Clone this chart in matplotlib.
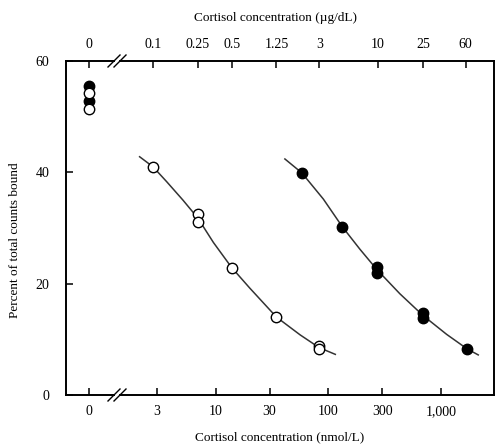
import numpy as np
import matplotlib
matplotlib.use('Agg')
import matplotlib.pyplot as plt
from matplotlib.ticker import FixedLocator, NullLocator, FixedFormatter
from matplotlib.lines import Line2D

plt.rcParams['font.family'] = ['Liberation Serif', 'DejaVu Serif']
plt.rcParams['font.size'] = 10

#-------------------------------------------------------------------------------
# data (cortisol in nmol/L, percent bound)
NMOL_PER_UG = 27.6

open_zero_y = [54.2, 51.4]
filled_zero_y = [55.5, 52.8]

open_x = [2.76, 6.9, 6.9, 13.8, 34.5, 82.8, 82.8]
open_y = [41.0, 32.5, 31.1, 22.9, 14.0, 8.8, 8.2]
filled_x = [58, 133, 270, 270, 690, 690, 1700]
filled_y = [39.9, 30.2, 23.0, 21.9, 14.8, 13.8, 8.3]

# fitted curves
open_curve_x = [2.1, 2.76, 3.66, 5.1, 6.9, 9.5, 13.8, 20, 34.5, 56, 82.8, 115]
open_curve_y = [42.8, 41.0, 38.3, 35.0, 31.8, 27.4, 22.9, 19.2, 14.0, 10.8, 8.5, 7.3]
filled_curve_x = [41, 58, 90, 133, 190, 270, 430, 690, 1120, 1700, 2140]
filled_curve_y = [42.4, 39.9, 35.2, 30.2, 26.2, 22.5, 18.2, 14.3, 10.9, 8.3, 7.2]

bottom_ticks = [3, 10, 30, 100, 300, 1000]
bottom_labels = ['3', '10', '30', '100', '300', '1,000']
top_ticks = [0.1, 0.25, 0.5, 1.25, 3, 10, 25, 60]
top_labels = ['0.1', '0.25', '0.5', '1.25', '3', '10', '25', '60']
y_ticks = [0, 20, 40, 60]

#-------------------------------------------------------------------------------
W, H = 495, 444
fig = plt.figure(figsize=(W/100, H/100), dpi=100)

def fx(px): return px/W
def fy(py): return 1 - py/H

bot, top = fy(395), fy(61)
ax0 = fig.add_axes([fx(66), bot, fx(114)-fx(66), top-bot])
ax1 = fig.add_axes([fx(120), bot, fx(494)-fx(120), top-bot])

for ax in (ax0, ax1):
    ax.set_ylim(0, 60)
    for s in ax.spines.values():
        s.set_linewidth(1.4)
    ax.tick_params(direction='in', length=5, width=1.1, top=True)

ms = 7.5
# zero dose
ax0.plot([0]*len(filled_zero_y), filled_zero_y, 'o', ms=ms, mfc='black', mec='black', clip_on=False)
ax0.plot([0]*len(open_zero_y), open_zero_y, 'o', ms=ms, mfc='white', mec='black', mew=1, clip_on=False)
ax0.set_xlim(-0.48, 0.52)
ax0.spines['right'].set_visible(False)
ax0.set_xticks([0])
ax0.set_xticklabels(['0'])
ax0.tick_params(axis='x', labeltop=True, pad=7)
ax0.set_yticks(y_ticks)
ax0.tick_params(axis='y', pad=12)

# log part
ax1.set_xscale('log')
ax1.set_xlim(1.406, 2954)
ax1.plot(open_curve_x, open_curve_y, '-', color='#333333', lw=1.1)
ax1.plot(filled_curve_x, filled_curve_y, '-', color='#333333', lw=1.1)
ax1.plot(open_x, open_y, 'o', ms=ms, mfc='white', mec='black', mew=1)
ax1.plot(filled_x, filled_y, 'o', ms=ms, mfc='black', mec='black')
ax1.spines['left'].set_visible(False)
ax1.xaxis.set_major_locator(FixedLocator(bottom_ticks))
ax1.xaxis.set_major_formatter(FixedFormatter(bottom_labels))
ax1.xaxis.set_minor_locator(NullLocator())
ax1.tick_params(axis='x', pad=7)
ax1.tick_params(axis='y', left=False, labelleft=False)
ax1.tick_params(axis='x', top=False)

sec = ax1.secondary_xaxis('top', functions=(lambda v: v/NMOL_PER_UG, lambda v: v*NMOL_PER_UG))
sec.xaxis.set_major_locator(FixedLocator(top_ticks))
sec.xaxis.set_major_formatter(FixedFormatter(top_labels))
sec.xaxis.set_minor_locator(NullLocator())
sec.tick_params(direction='in', length=5, width=1.1, pad=7)
sec.spines['top'].set_visible(False)

# axis break marks
for yb in (61, 395):
    for dx in (-3, 3):
        xc = 117 + dx
        fig.add_artist(Line2D([fx(xc-6), fx(xc+6)], [fy(yb+6), fy(yb-6)],
                              color='black', lw=1.0))

fig.text(fx(15), fy(240), 'Percent of total counts bound', rotation=90,
         ha='center', va='center', fontsize=9.5)
fig.text(fx(280), fy(437), 'Cortisol concentration (nmol/L)', ha='center', va='center', fontsize=9.5)
fig.text(fx(275), fy(18), 'Cortisol concentration (\u00b5g/dL)', ha='center', va='center', fontsize=9.5)

fig.savefig('out.png', dpi=100)
